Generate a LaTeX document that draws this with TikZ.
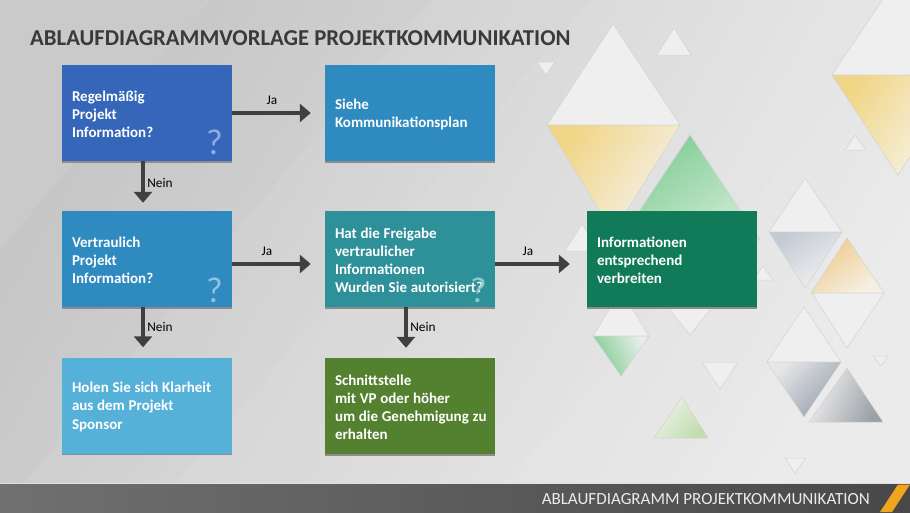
\documentclass[tikz,border=0pt]{standalone}
\usepackage{fontspec}
\setmainfont{Carlito}
\usetikzlibrary{arrows.meta}
\definecolor{edgegray}{HTML}{D2D2D2}
\definecolor{whitetri}{HTML}{EFEFEF}
\definecolor{darktxt}{HTML}{3A3A3A}
\definecolor{arrowgray}{HTML}{404040}
\definecolor{bgA}{HTML}{C6C6C6}
\definecolor{bgB}{HTML}{E8E8E8}
\definecolor{footA}{HTML}{707070}
\definecolor{footB}{HTML}{484848}
\definecolor{slash}{HTML}{EFA51E}
\definecolor{boxA}{HTML}{3566B9}
\definecolor{boxB}{HTML}{2E8ABF}
\definecolor{boxD}{HTML}{2E9098}
\definecolor{boxF}{HTML}{117A59}
\definecolor{boxG}{HTML}{56B1D9}
\definecolor{boxH}{HTML}{54812F}
\definecolor{qA}{HTML}{8FAEE0}
\definecolor{qB}{HTML}{8CC3E2}
\definecolor{qC}{HTML}{8FC8CC}
\definecolor{yelA}{HTML}{F1D586}
\definecolor{yelB}{HTML}{F4F2EC}
\definecolor{yelC}{HTML}{F7F5EF}
\definecolor{grnA}{HTML}{7FCB92}
\definecolor{grnB}{HTML}{CDEBD3}
\definecolor{grnC}{HTML}{E8EFEA}
\definecolor{bluA}{HTML}{C4CAD4}
\definecolor{bluB}{HTML}{F2F2F2}
\definecolor{oraA}{HTML}{EFCB8C}
\definecolor{oraB}{HTML}{F5F0E6}
\definecolor{dkA}{HTML}{E6E7E9}
\definecolor{dkB}{HTML}{98A1AC}
\definecolor{dkC}{HTML}{F0F0F0}
\definecolor{dkD}{HTML}{9AA0A6}
\definecolor{limA}{HTML}{EEF1EA}
\definecolor{limB}{HTML}{BFDDAE}
\tikzset{
  x=1pt,y=-1pt,
  gr/.style n args={3}{draw=edgegray,line width=.5pt,top color=#1,bottom color=#2,shading angle=#3},
  wt/.style={draw=edgegray,line width=.5pt,fill=whitetri},
  band/.style={fill=white,fill opacity=.07,draw=none},
  flowbox/.style={minimum width=170pt,minimum height=96pt,text width=170pt,inner sep=0pt,
    text=white,font=\fontsize{15}{18.2}\selectfont\bfseries,
    execute at begin node={\leftskip=10pt\relax\rightskip=0pt plus 1fil\relax\hyphenpenalty=10000\relax\spaceskip=3.7pt\relax\vskip -5pt\relax},
    preaction={fill=black!45,transform canvas={yshift=-1.5pt}}},
  flow/.style={draw=arrowgray,line width=3.8pt,-{Triangle[length=11pt,width=18pt]}},
  lab/.style={font=\fontsize{13.3}{16}\selectfont,text=black,inner sep=0pt},
  qm/.style={font=\fontsize{36}{36}\selectfont,inner sep=0pt},
}
\begin{document}
\begin{tikzpicture}
\useasboundingbox (0,0) rectangle (910,512);
% background
\shade[top color=bgA,bottom color=bgB,shading angle=60] (0,0) rectangle (910,512);
\path[band] (0,512) -- (430,0) -- (910,0) -- (910,512) -- cycle;
\path[band] (150,512) -- (590,0) -- (910,0) -- (910,512) -- cycle;
\path[band] (0,250) -- (210,0) -- (0,0) -- cycle;
\path[band] (480,512) -- (910,20) -- (910,512) -- cycle;
% triangles
\path[wt] (613,24) -- (680,125) -- (547,125) -- cycle;
\path[gr={yelA}{yelB}{55}] (547,125) -- (680,125) -- (613,233) -- cycle;
\path[wt] (674,28) -- (691,55) -- (657,55) -- cycle;
\path[wt] (537,62) -- (555,62) -- (546,75) -- cycle;
\path[gr={grnA}{grnB}{35}] (690,135) -- (760,240) -- (620,240) -- cycle;
\path[wt] (899,-25) -- (966,75) -- (832,75) -- cycle;
\path[gr={yelA}{yelC}{55}] (832,75) -- (964,75) -- (898,175) -- cycle;
\path[wt] (855,135) -- (866,150) -- (845,150) -- cycle;
\path[wt] (805,178) -- (842,232) -- (769,232) -- cycle;
\path[gr={bluA}{bluB}{35}] (769,232) -- (842,232) -- (805,288) -- cycle;
\path[gr={oraA}{oraB}{35}] (847,238) -- (884,293) -- (811,293) -- cycle;
\path[wt] (812,293) -- (884,293) -- (847,348) -- cycle;
\path[wt] (804,307) -- (841,362) -- (767,362) -- cycle;
\path[gr={dkA}{dkB}{45}] (767,362) -- (841,362) -- (804,417) -- cycle;
\path[gr={dkC}{dkD}{65}] (847,368) -- (883,422) -- (809,422) -- cycle;
\path[wt] (873,356) -- (888,356) -- (881,366) -- cycle;
\path[wt] (763,266) -- (773,280) -- (753,280) -- cycle;
\path[wt] (582,224) -- (599,251) -- (565,251) -- cycle;
\path[wt] (654,290) -- (726,290) -- (690,335) -- cycle;
\path[wt] (621,290) -- (649,336) -- (593,336) -- cycle;
\path[gr={grnC}{grnA}{-65}] (593,336) -- (649,336) -- (621,376) -- cycle;
\path[wt] (702,362) -- (738,362) -- (720,389) -- cycle;
\path[gr={limA}{limB}{50}] (682,397) -- (708,438) -- (654,438) -- cycle;
\path[wt] (785,458) -- (806,458) -- (795,473) -- cycle;
% footer
\fill[white!88!black] (0,483) rectangle (910,485);
\shade[left color=footA,right color=footB] (0,484.5) rectangle (910,512);
\fill[slash] (898,484.5) -- (910,484.5) -- (892,512) -- (880,512) -- cycle;
% title & footer text
\node[anchor=base west,inner sep=0pt,text=darktxt,font=\fontsize{22.7}{26}\selectfont\bfseries] (title) at (30,45) {ABLAUFDIAGRAMMVORLAGE PROJEKTKOMMUNIKATION};
\node[anchor=base east,inner sep=0pt,text=white!92!black,font=\fontsize{17}{20}\selectfont] (foot) at (870,504) {ABLAUFDIAGRAMM PROJEKTKOMMUNIKATION};
% boxes
\node[flowbox,fill=boxA] (b1) at (147,113) {Regelmäßig\\Projekt\\Information?};
\node[flowbox,fill=boxB] (b2) at (410,113) {Siehe\\Kommunikationsplan};
\node[flowbox,fill=boxB] (b3) at (147,259) {Vertraulich\\Projekt\\Information?};
\node[flowbox,fill=boxD] (b4) at (410,259) {Hat die Freigabe\\vertraulicher\\Informationen\\Wurden Sie autorisiert?};
\node[flowbox,fill=boxF] (b5) at (672,259) {Informationen\\entsprechend\\verbreiten};
\node[flowbox,fill=boxG] (b6) at (147,405.5) {Holen Sie sich Klarheit\\aus dem Projekt\\Sponsor};
\node[flowbox,fill=boxH] (b7) at (410,406) {Schnittstelle\\mit VP oder höher\\um die Genehmigung zu\\erhalten};
% question marks
\node[qm,text=qA] (q1) at (214.5,142) {?};
\node[qm,text=qB] (q2) at (214.5,290) {?};
\node[qm,text=qC] (q3) at (478.5,290) {?};
% connectors
\draw[flow,shorten >=14pt] (b1.east) -- (b2.west);
\draw[flow,shorten >=14pt] ([yshift=-5pt]b3.east) -- ([yshift=-5pt]b4.west);
\draw[flow,shorten >=17pt] ([yshift=-5pt]b4.east) -- ([yshift=-5pt]b5.west);
\draw[flow,shorten >=8pt] ([xshift=-4pt]b1.south) -- ([xshift=-4pt]b3.north);
\draw[flow,shorten >=10pt] ([xshift=-4pt]b3.south) -- ([xshift=-4pt]b6.north);
\draw[flow,shorten >=10pt] ([xshift=-4pt]b4.south) -- ([xshift=-4pt]b7.north);
% labels
\node[lab] (l1) at (272,100) {Ja};
\node[lab] (l2) at (160,183) {Nein};
\node[lab] (l3) at (267,251) {Ja};
\node[lab] (l4) at (160,327) {Nein};
\node[lab] (l5) at (528,251) {Ja};
\node[lab] (l6) at (423,327) {Nein};
\end{tikzpicture}
\end{document}
